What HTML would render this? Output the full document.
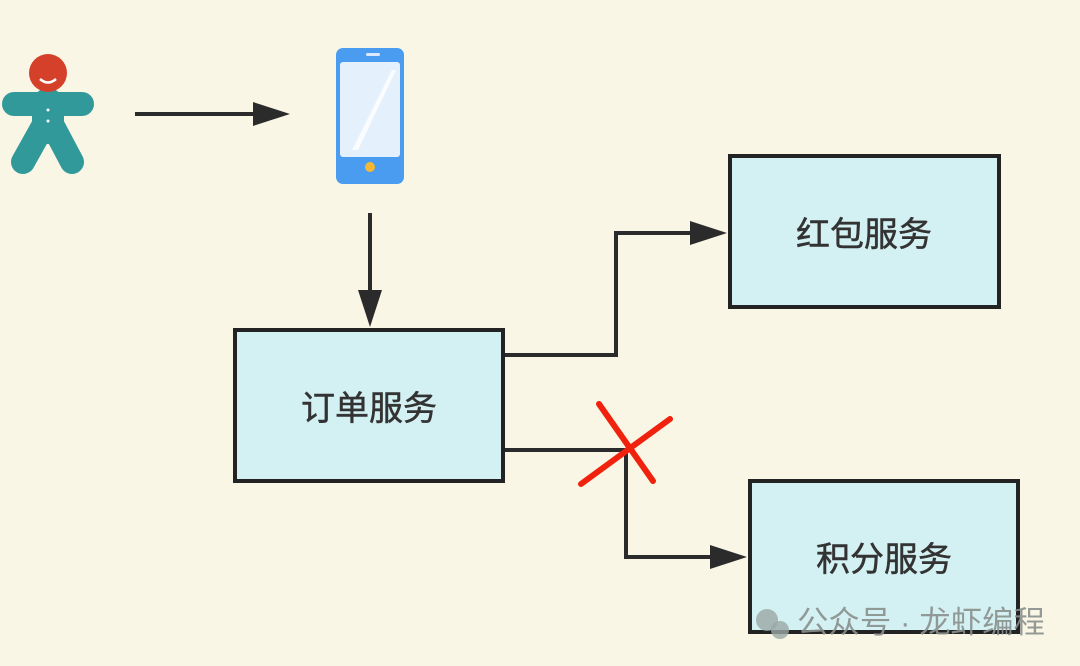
<!DOCTYPE html>
<html><head><meta charset="utf-8"><style>
html,body{margin:0;padding:0;background:#faf6e6;}
svg{display:block}
text{font-family:"Liberation Sans","Noto Sans CJK SC",sans-serif;}
</style></head><body>
<svg width="1080" height="666" viewBox="0 0 1080 666" xmlns="http://www.w3.org/2000/svg">
<rect width="1080" height="666" fill="#faf6e6"/>
<!-- person -->
<g fill="#32999a" stroke="#32999a" stroke-linecap="round">
<line x1="14" y1="104" x2="82" y2="104" stroke-width="24"/>
<line x1="48" y1="104" x2="48" y2="128" stroke-width="32"/>
<line x1="42" y1="128" x2="23" y2="162" stroke-width="24"/>
<line x1="54" y1="128" x2="72" y2="162" stroke-width="24"/>
</g>
<circle cx="48" cy="73" r="19" fill="#d5402b"/>
<path d="M40,79 Q48,86 56,79" stroke="#fff" stroke-width="2.5" fill="none"/>
<circle cx="48" cy="110" r="1.5" fill="#fff"/><circle cx="48" cy="121" r="1.5" fill="#fff"/>
<g fill="#2b2b2b">
<line x1="135" y1="114" x2="260" y2="114" stroke="#2b2b2b" stroke-width="4"/>
<path d="M253,102 L290,114 L253,126Z"/>
<line x1="370" y1="213" x2="370" y2="295" stroke="#2b2b2b" stroke-width="4"/>
<path d="M358,290 L370,327 L382,290Z"/>
<path d="M690,221 L727,233 L690,245Z"/>
<path d="M710,545 L747,557 L710,569Z"/>
</g>
<!-- phone -->
<rect x="336" y="48" width="68" height="136" rx="7" fill="#4a9cf0"/>
<rect x="340" y="62" width="60" height="95" rx="3" fill="#e4f1fc"/>
<path d="M352,150 L392,70 L396,70 L358,150Z" fill="#fff" opacity=".8"/>
<circle cx="370" cy="167" r="5" fill="#f5b836"/>
<rect x="366" y="53" width="14" height="3" rx="1.5" fill="#dce9fb"/>
<!-- boxes -->
<g fill="#d3f0f2" stroke="#232323" stroke-width="4">
<rect x="235" y="330" width="268" height="151"/>
<rect x="730" y="156" width="269" height="151"/>
<rect x="750" y="481" width="268" height="151"/>
</g>
<g font-size="34" fill="#333" text-anchor="middle" stroke="#333" stroke-width="0.5">
<text x="369" y="420">订单服务</text>
<text x="864" y="246">红包服务</text>
<text x="884" y="571">积分服务</text>
</g>
<polyline points="505,355 616,355 616,233 695,233" fill="none" stroke="#2b2b2b" stroke-width="4"/>
<polyline points="505,450 626,450 626,557 715,557" fill="none" stroke="#2b2b2b" stroke-width="4"/>
<!-- red X -->
<g stroke="#f0220e" stroke-width="6" stroke-linecap="round">
<line x1="599" y1="404" x2="653" y2="481"/>
<line x1="670" y1="419" x2="581" y2="484"/>
</g>
<!-- watermark -->
<circle cx="767" cy="620" r="11" fill="#9aa7a5" opacity=".8"/>
<circle cx="780" cy="630" r="9" fill="#9aa7a5" opacity=".8"/>
<text x="797" y="633" font-size="31" fill="#8a908e" opacity=".9" textLength="248" lengthAdjust="spacingAndGlyphs">公众号 · 龙虾编程</text>
</svg>
</body></html>
